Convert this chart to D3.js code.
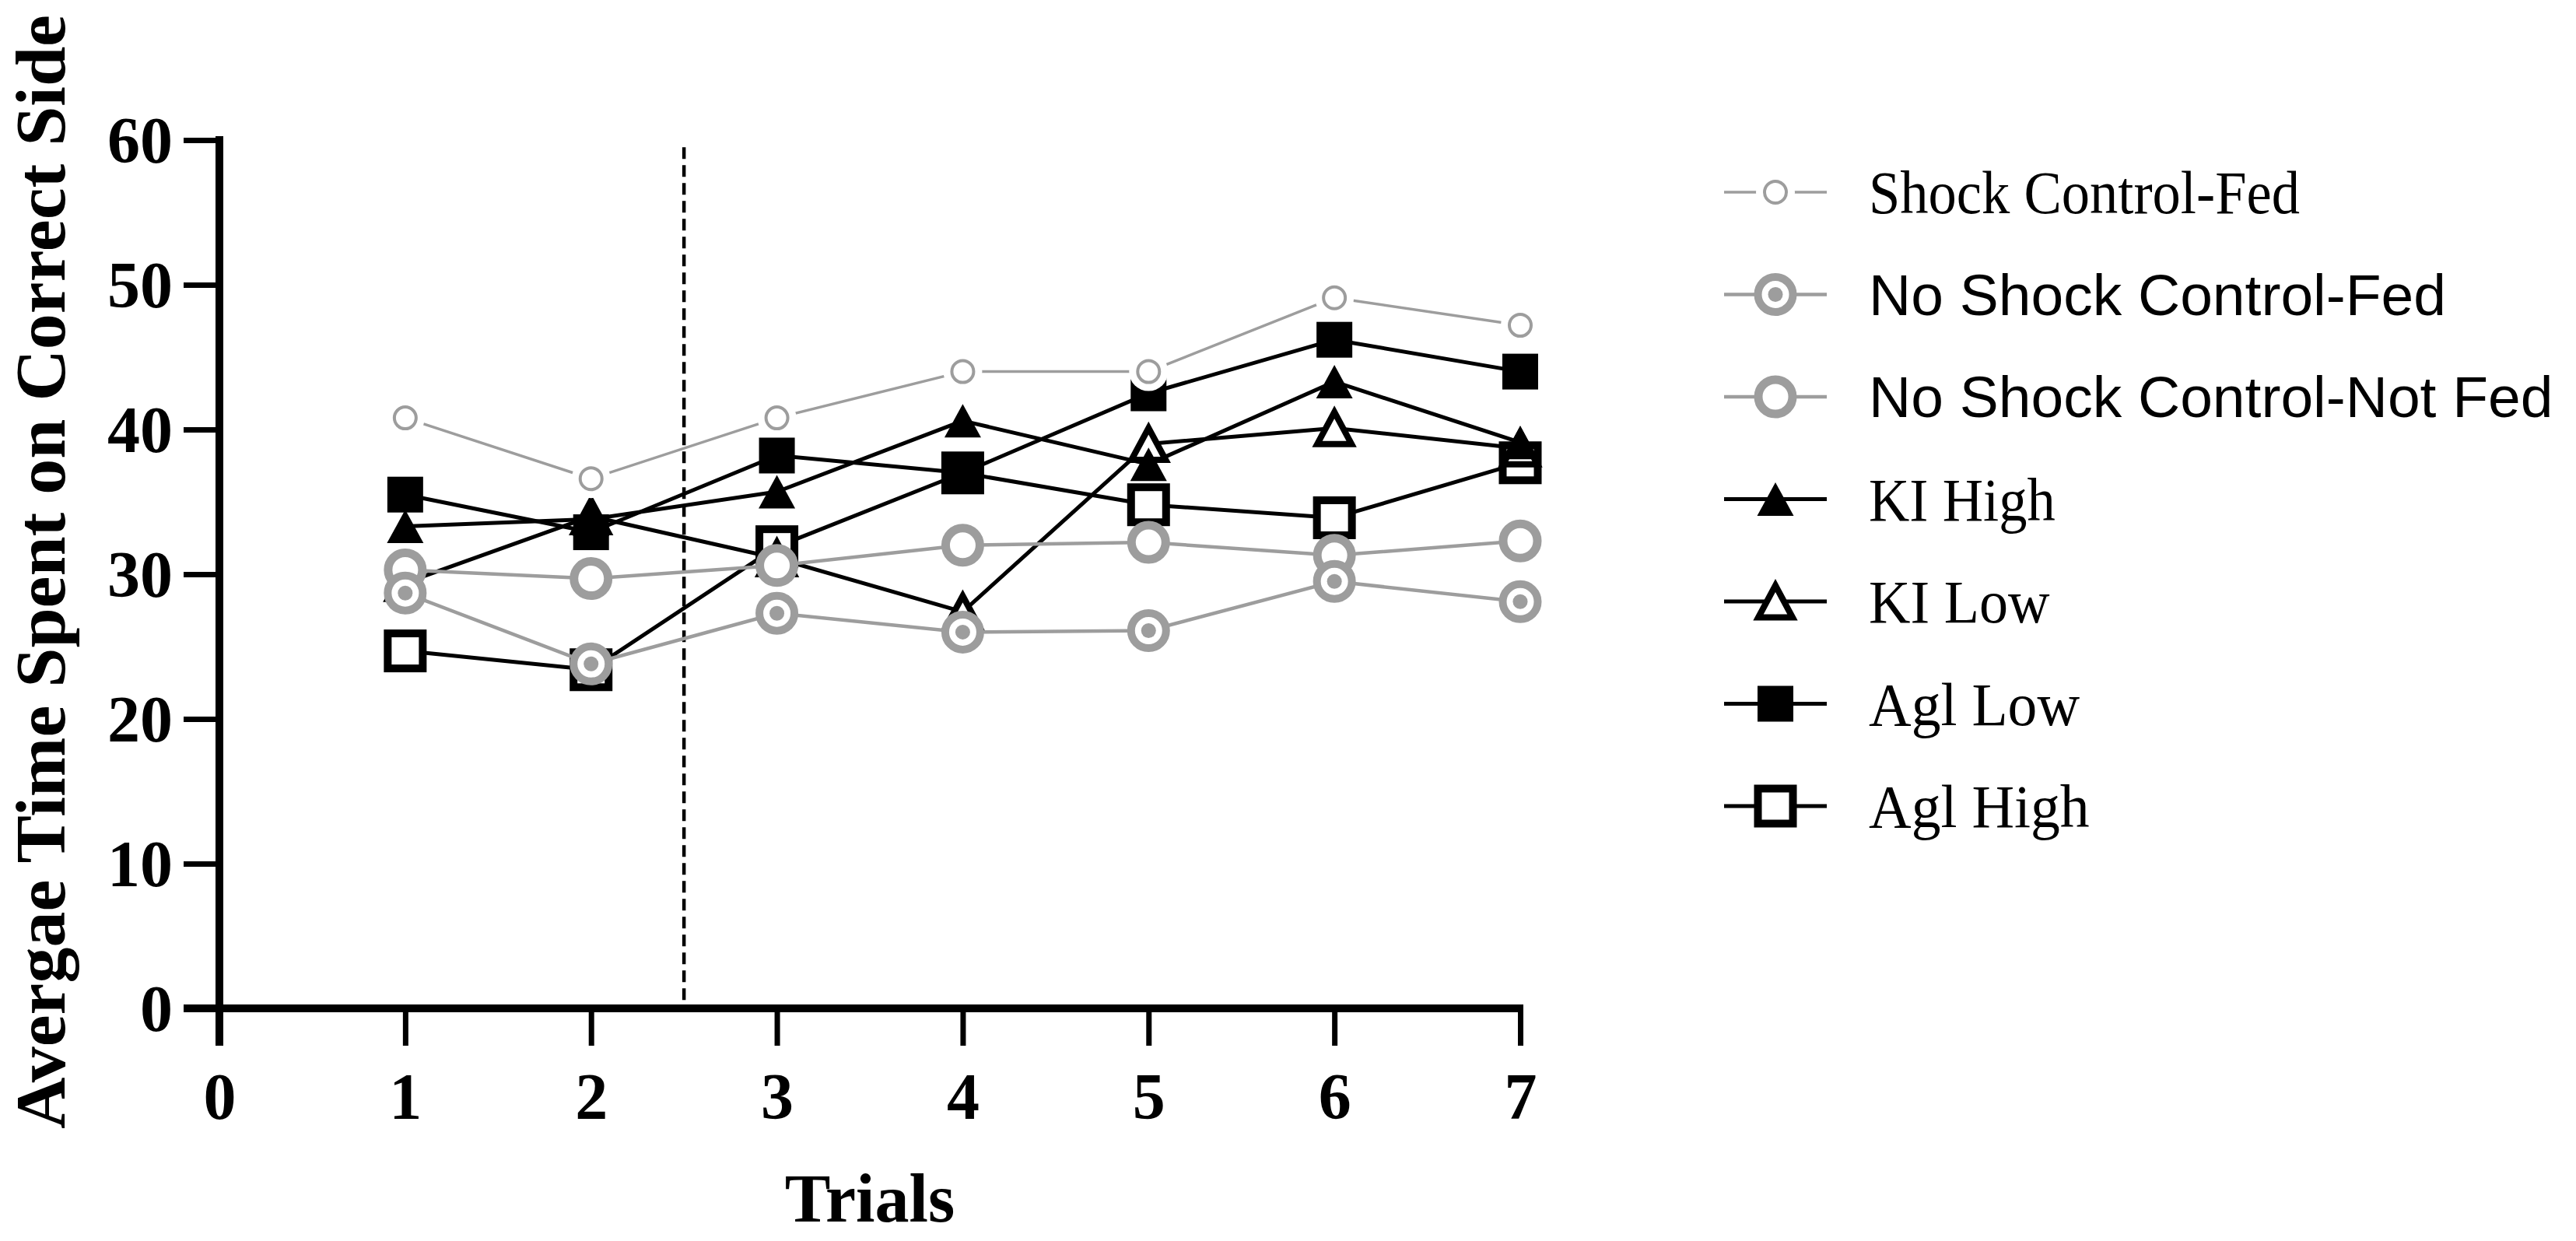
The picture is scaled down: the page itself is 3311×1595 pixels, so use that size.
<!DOCTYPE html>
<html>
<head>
<meta charset="utf-8">
<script src="https://cdn.jsdelivr.net/npm/d3@7"></script>
<style>
  html, body { margin: 0; padding: 0; background: #ffffff; }
  svg { display: block; }
</style>
</head>
<body>
<svg id="chart" width="3311" height="1595"></svg>
<script>
// ---------------- data ----------------
const trials = [1, 2, 3, 4, 5, 6, 7];
const xTickValues = [0, 1, 2, 3, 4, 5, 6, 7];
const yTickValues = [0, 10, 20, 30, 40, 50, 60];
const dividerTrial = 2.5;

const seriesNames = [
  "Shock Control-Fed",
  "No Shock Control-Fed",
  "No Shock Control-Not Fed",
  "KI High",
  "KI Low",
  "Agl Low",
  "Agl High"
];
const shockControlFed      = [40.8, 36.6, 40.8, 44.0, 44.0, 49.1, 47.2];
const noShockControlFed    = [28.7, 23.8, 27.3, 26.0, 26.1, 29.5, 28.1];
const noShockControlNotFed = [30.3, 29.7, 30.6, 32.0, 32.2, 31.3, 32.3];
const kiHigh               = [33.3, 33.8, 35.7, 40.6, 37.6, 43.3, 39.1];
const kiLow                = [29.4, 34.0, 31.1, 27.4, 39.0, 40.1, 38.7];
const aglLow               = [35.5, 32.9, 38.2, 37.0, 42.5, 46.2, 44.0];
const aglHigh              = [24.7, 23.4, 31.9, 37.0, 34.8, 33.9, 37.7];

const xAxisTitle = "Trials";
const yAxisTitle = "Avergae Time Spent on Correct Side";

// ---------------- styles ----------------
const GREY = "#9d9d9d";
const serif = "'Liberation Serif', 'Times New Roman', serif";
const sans = "'Liberation Sans', Arial, sans-serif";

const seriesValues = [shockControlFed, noShockControlFed, noShockControlNotFed, kiHigh, kiLow, aglLow, aglHigh];
const seriesStyle = [
  { marker: "smallCircle",    color: GREY,    lineWidth: 3.5, font: serif, fontSize: 78, squeeze: 0.93 },
  { marker: "dotCircle",      color: GREY,    lineWidth: 4.5, font: sans,  fontSize: 75, squeeze: 1 },
  { marker: "openCircle",     color: GREY,    lineWidth: 4.5, font: sans,  fontSize: 75, squeeze: 1 },
  { marker: "filledTriangle", color: "#000",  lineWidth: 5,   font: serif, fontSize: 78, squeeze: 0.93 },
  { marker: "openTriangle",   color: "#000",  lineWidth: 5,   font: serif, fontSize: 78, squeeze: 0.95 },
  { marker: "filledSquare",   color: "#000",  lineWidth: 5,   font: serif, fontSize: 78, squeeze: 0.97 },
  { marker: "openSquare",     color: "#000",  lineWidth: 5,   font: serif, fontSize: 78, squeeze: 0.97 }
];
// drawing order (last drawn on top)
const drawOrder = [6, 5, 4, 3, 2, 1, 0];

const svg = d3.select("#chart");
svg.append("rect").attr("width", 3311).attr("height", 1595).attr("fill", "#fff");

const x = d3.scaleLinear().domain([0, 7]).range([282, 1954]);
const y = d3.scaleLinear().domain([0, 60]).range([1296, 180]);

// ---------------- markers ----------------
function drawMarker(g, type, color) {
  switch (type) {
    case "smallCircle":
      g.append("circle").attr("r", 25).attr("fill", "#fff");
      g.append("circle").attr("r", 14).attr("fill", "#fff").attr("stroke", color).attr("stroke-width", 4);
      break;
    case "dotCircle":
      g.append("circle").attr("r", 22.5).attr("fill", "#fff").attr("stroke", color).attr("stroke-width", 10);
      g.append("circle").attr("r", 9.5).attr("fill", color);
      break;
    case "openCircle":
      g.append("circle").attr("r", 22).attr("fill", "#fff").attr("stroke", color).attr("stroke-width", 11);
      break;
    case "filledTriangle": {
      const w = 47, h = 43;
      g.append("path").attr("d", `M0,${-h/2}L${w/2},${h/2}L${-w/2},${h/2}Z`).attr("fill", color);
      break;
    }
    case "openTriangle": {
      const w = 44, h = 41;
      g.append("path").attr("d", `M0,${-h/2}L${w/2},${h/2}L${-w/2},${h/2}Z`)
        .attr("fill", "#fff").attr("stroke", color).attr("stroke-width", 8).attr("stroke-linejoin", "miter");
      break;
    }
    case "filledSquare":
      g.append("rect").attr("x", -23).attr("y", -23).attr("width", 46).attr("height", 46).attr("fill", color);
      break;
    case "openSquare":
      g.append("rect").attr("x", -22.5).attr("y", -22.5).attr("width", 45).attr("height", 45)
        .attr("fill", "#fff").attr("stroke", color).attr("stroke-width", 10);
      break;
  }
}

// ---------------- axes ----------------
const axisG = svg.append("g");

// y axis ticks + labels
const yAxis = d3.axisLeft(y).tickValues(yTickValues).tickSize(46).tickPadding(14).tickFormat(d3.format("d"));
const yg = axisG.append("g").attr("transform", `translate(${x(0)},0)`).call(yAxis);
yg.select(".domain").remove();
yg.selectAll(".tick line").attr("stroke", "#000").attr("stroke-width", 7);
yg.selectAll(".tick text").attr("font-family", serif).attr("font-weight", "bold")
  .attr("font-size", 84).attr("fill", "#000").attr("dy", "0.34em");

// x axis ticks + labels
const xAxis = d3.axisBottom(x).tickValues(xTickValues).tickSize(48).tickPadding(34).tickFormat(d3.format("d"));
const xg = axisG.append("g").attr("transform", `translate(0,${y(0)})`).call(xAxis);
xg.select(".domain").remove();
xg.selectAll(".tick line").attr("stroke", "#000").attr("stroke-width", 7);
xg.selectAll(".tick text").attr("font-family", serif).attr("font-weight", "bold")
  .attr("font-size", 84).attr("fill", "#000");

// axis lines
axisG.append("line").attr("x1", x(0)).attr("x2", x(0)).attr("y1", y(60) - 5).attr("y2", y(0) + 48)
  .attr("stroke", "#000").attr("stroke-width", 10);
axisG.append("line").attr("x1", x(0) - 46).attr("x2", x(7) + 4).attr("y1", y(0)).attr("y2", y(0))
  .attr("stroke", "#000").attr("stroke-width", 10);

// divider dashed line
svg.append("line").attr("x1", x(dividerTrial)).attr("x2", x(dividerTrial))
  .attr("y1", y(59.5)).attr("y2", y(0))
  .attr("stroke", "#000").attr("stroke-width", 4.5).attr("stroke-dasharray", "15 8");

// axis titles
svg.append("text").attr("x", (x(0) + x(7)) / 2).attr("y", 1570).attr("text-anchor", "middle")
  .attr("font-family", serif).attr("font-weight", "bold").attr("font-size", 88).text(xAxisTitle);
svg.append("text").attr("transform", `translate(83,${735}) rotate(-90)`).attr("text-anchor", "middle")
  .attr("font-family", serif).attr("font-weight", "bold").attr("font-size", 92).text(yAxisTitle);

// ---------------- series ----------------
const plotG = svg.append("g");
const lineGen = d3.line().x((d, i) => x(trials[i])).y(d => y(d));
drawOrder.forEach(si => {
  const st = seriesStyle[si];
  const vals = seriesValues[si];
  const g = plotG.append("g");
  g.append("path").attr("d", lineGen(vals)).attr("fill", "none")
    .attr("stroke", st.color).attr("stroke-width", st.lineWidth).attr("stroke-linejoin", "round");
  vals.forEach((v, i) => {
    const mg = g.append("g").attr("transform", `translate(${x(trials[i])},${y(v)})`);
    drawMarker(mg, st.marker, st.color);
  });
});

// ---------------- legend ----------------
const legendG = svg.append("g");
const legY0 = 247, legStep = 131.5, legMx = 2282, legHalf = 66, legTx = 2402;
seriesNames.forEach((name, i) => {
  const st = seriesStyle[i];
  const cy = legY0 + i * legStep;
  const row = legendG.append("g");
  row.append("line").attr("x1", legMx - legHalf).attr("x2", legMx + legHalf).attr("y1", cy).attr("y2", cy)
    .attr("stroke", st.color).attr("stroke-width", st.lineWidth);
  const mg = row.append("g").attr("transform", `translate(${legMx},${cy})`);
  drawMarker(mg, st.marker, st.color);
  row.append("text").attr("transform", `translate(${legTx},${cy}) scale(${st.squeeze},1)`).attr("dy", "0.35em")
    .attr("font-family", st.font).attr("font-size", st.fontSize).attr("fill", "#000").text(name);
});
</script>
</body>
</html>
